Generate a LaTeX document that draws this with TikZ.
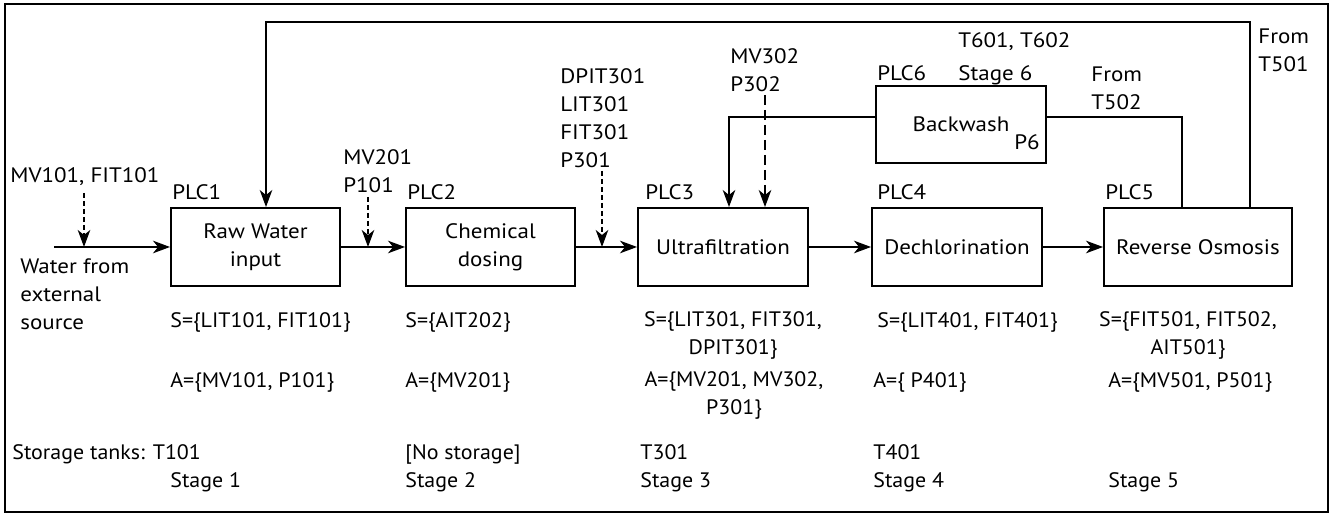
\documentclass[tikz,border=0pt]{standalone}
\usepackage{fontspec}
\setmainfont[FakeStretch=1.1]{PT Sans}
\newfontfamily\lowfont[FakeStretch=1.05]{PT Sans}
\usetikzlibrary{arrows.meta}
\tikzset{
  stagebox/.style={draw, rectangle, line width=1.1pt, minimum height=1.56cm, inner sep=0pt, align=center},
  lbl/.style={anchor=base west, inner sep=0pt, align=left},
  setlbl/.style={anchor=base, inner sep=0pt, align=center},
  low/.style={font=\lowfont\fontsize{11.9}{16}\selectfont},
  flow/.style={->, line width=1.1pt},
  feed/.style={line width=0.9pt},
  sig/.style={->, line width=1pt, dash pattern=on 0.1cm off 0.06cm},
  sigdash/.style={->, line width=1pt, dash pattern=on 0.2cm off 0.1cm}
}
\begin{document}
\begin{tikzpicture}[x=0.02cm, y=-0.02cm, >={Stealth[length=0.34cm, width=0.25cm, inset=0.1cm]},
  every node/.style={font=\fontsize{11.9}{16}\selectfont}]
\useasboundingbox (0,0) rectangle (1333,516);
\draw[line width=1pt] (5,4) rectangle (1328,512);

\node at (255.5,247) [stagebox, minimum width=3.38cm] (raw) {Raw Water\\input};
\node at (490.5,247) [stagebox, minimum width=3.38cm] (chem) {Chemical\\dosing};
\node at (723,247) [stagebox, minimum width=3.4cm] (uf) {Ultrafiltration};
\node at (957,247) [stagebox, minimum width=3.4cm] (dechl) {Dechlorination};
\node at (1198,247) [stagebox, minimum width=3.76cm] (ro) {Reverse Osmosis};
\node at (961,124.5) [stagebox, minimum width=3.4cm, minimum height=1.54cm] (bw) {Backwash};
\node at (1040,150) [inner sep=0pt, anchor=base east] (p6) {P6};

\node at (172,200) [lbl] (plc1) {PLC1};
\node at (407,200) [lbl] (plc2) {PLC2};
\node at (645,200) [lbl] (plc3) {PLC3};
\node at (877,200) [lbl] (plc4) {PLC4};
\node at (1105,200) [lbl] (plc5) {PLC5};
\node at (877,81) [lbl] (plc6) {PLC6};

\node at (10,183) [lbl] (mvfit) {MV101, FIT101};
\node at (343,193) [lbl] (mv201) {MV201\\P101};
\node at (560,168) [lbl] (dpit) {DPIT301\\LIT301\\FIT301\\P301};
\node at (730,92) [lbl] (mv302) {MV302\\P302};
\node at (958,48) [lbl] (tanks6) {T601, T602};
\node at (958,81) [lbl] (stage6) {Stage 6};
\node at (1091,110) [lbl] (t502) {From\\T502};
\node at (1258,72) [lbl] (t501) {From\\T501};
\node at (20,330) [lbl] (src) {Water from\\external\\source};

\node at (170,328) [lbl, low] (s1) {S=\{LIT101, FIT101\}};
\node at (405,328) [lbl, low] (s2) {S=\{AIT202\}};
\node at (733,355) [setlbl, low] (s3) {S=\{LIT301, FIT301,\\DPIT301\}};
\node at (877,328) [lbl, low] (s4) {S=\{LIT401, FIT401\}};
\node at (1188,355) [setlbl, low] (s5) {S=\{FIT501, FIT502,\\AIT501\}};
\node at (170,388) [lbl, low] (a1) {A=\{MV101, P101\}};
\node at (405,388) [lbl, low] (a2) {A=\{MV201\}};
\node at (734,415) [setlbl, low] (a3) {A=\{MV201, MV302,\\P301\}};
\node at (873,388) [lbl, low] (a4) {A=\{ P401\}};
\node at (1108,388) [lbl, low] (a5) {A=\{MV501, P501\}};

\node at (12,460) [lbl, low] (tank1) {Storage tanks: T101};
\node at (405,460) [lbl, low] (tank2) {[No storage]};
\node at (640,460) [lbl, low] (tank3) {T301};
\node at (873,460) [lbl, low] (tank4) {T401};
\foreach \x/\n in {170/1, 405/2, 640/3, 873/4, 1108/5}
  \node at (\x,488) [lbl, low] (stage\n) {Stage \n};

\coordinate (in) at (54,247);
\draw[flow] (in) -- (raw);
\draw[flow] (raw) -- (chem);
\draw[flow] (chem) -- (uf);
\draw[flow] (uf) -- (dechl);
\draw[flow] (dechl) -- (ro);

\coordinate (c1) at (84,193);
\coordinate (c2) at (368,197);
\coordinate (c3) at (602,171);
\coordinate (c4) at (765,95);
\draw[sig] (c1) -- (c1 |- in);
\draw[sig] (c2) -- (c2 |- in);
\draw[sig] (c3) -- (c3 |- in);
\draw[sigdash] (c4) -- (c4 |- uf.north);

\coordinate (fbr) at (1250,22);
\coordinate (fbl) at (266,22);
\draw[feed, ->] (ro.north -| fbr) -- (fbr) -- (fbl) -- (raw.north -| fbl);
\coordinate (bwl) at (729,117);
\coordinate (bwr) at (1182,117);
\draw[feed, ->] (bw.west |- bwl) -- (bwl) -- (uf.north -| bwl);
\draw[feed] (bw.east |- bwr) -- (bwr) -- (ro.north -| bwr);
\end{tikzpicture}
\end{document}
